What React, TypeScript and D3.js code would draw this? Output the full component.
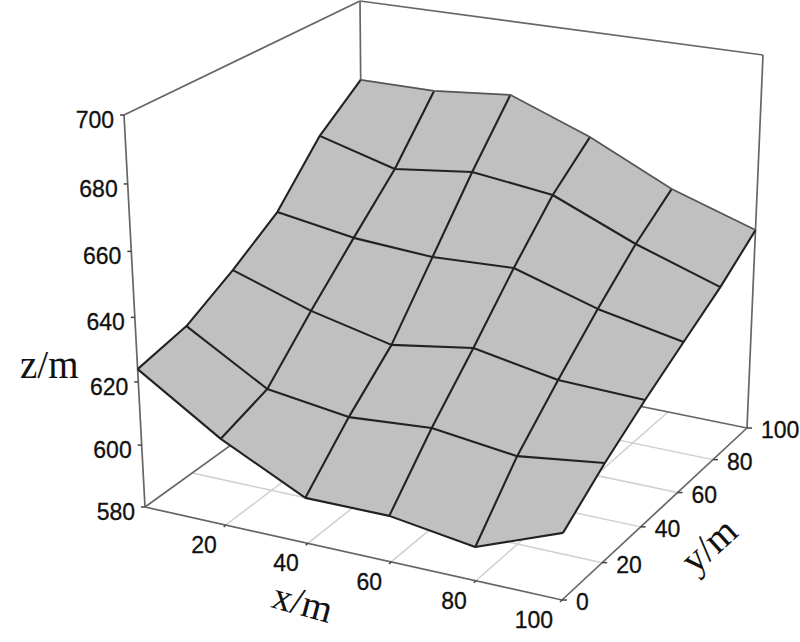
import React from "react";
import * as d3 from "d3";

const xNodes = [0, 20, 40, 60, 80, 100];
const yNodes = [0, 20, 40, 60, 80, 100];
const zRow0 = [624.0, 607.5, 594.5, 594.6, 590.7, 601.1];
const zRow20 = [627.8, 612.9, 609.3, 611.3, 608.0, 611.5];
const zRow40 = [636.4, 628.1, 622.2, 626.3, 621.4, 620.5];
const zRow60 = [646.4, 642.5, 640.9, 642.1, 634.0, 628.6];
const zRow80 = [663.2, 656.4, 659.6, 656.5, 645.4, 636.4];
const zRow100 = [674.2, 674.2, 676.6, 666.9, 654.4, 645.6];
const zRows = [zRow0, zRow20, zRow40, zRow60, zRow80, zRow100];
const xTicks = [20, 40, 60, 80, 100];
const yTicks = [0, 20, 40, 60, 80, 100];
const gridTicks = [20, 40, 60, 80];
const zTicks = [580, 600, 620, 640, 660, 680, 700];

type Pt = [number, number];
const floorA: Pt = [145, 507], floorB: Pt = [562, 600], floorC: Pt = [747, 428], floorD: Pt = [363, 350];
const topA: Pt = [124, 115], topB: Pt = [568, 197], topC: Pt = [763, 55], topD: Pt = [360, 1];

function quad(p00: Pt, p10: Pt, p11: Pt, p01: Pt) {
  const [x0, y0] = p00, [x1, y1] = p10, [x2, y2] = p11, [x3, y3] = p01;
  const dx1 = x1 - x2, dx2 = x3 - x2, sx = x0 - x1 + x2 - x3;
  const dy1 = y1 - y2, dy2 = y3 - y2, sy = y0 - y1 + y2 - y3;
  const det = dx1 * dy2 - dx2 * dy1;
  const g = (sx * dy2 - dx2 * sy) / det, h = (dx1 * sy - sx * dy1) / det;
  const a = [x1 - x0 + g * x1, y1 - y0 + g * y1, g];
  const b = [x3 - x0 + h * x3, y3 - y0 + h * y3, h];
  const c = [x0, y0, 1];
  return (u: number, v: number): Pt => {
    const q = [0, 1, 2].map((i) => a[i] * u + b[i] * v + c[i]);
    return [q[0] / q[2], q[1] / q[2]];
  };
}
const floor = quad(floorA, floorB, floorC, floorD);
const ceil = quad(topA, topB, topC, topD);
const sx = d3.scaleLinear().domain([0, 100]).range([0, 1]);
const sy = d3.scaleLinear().domain([0, 100]).range([0, 1]);
const sz = d3.scaleLinear().domain([580, 700]).range([0, 1]);
const depth = 1.067;
function project(x: number, y: number, z: number): Pt {
  const t = sz(z);
  const g = t / (t + (1 - t) * depth);
  const f = floor(sx(x), sy(y)), c = ceil(sx(x), sy(y));
  return [f[0] + (c[0] - f[0]) * g, f[1] + (c[1] - f[1]) * g];
}
const line = d3.line<Pt>();
const zMin = 580, zMax = 700, lo = 0, hi = 100;
const seg = (a: [number, number, number], b: [number, number, number]) =>
  line([project(...a), project(...b)]) as string;

const sansFont = "'Liberation Sans', Arial, sans-serif";
const serifFont = "'Liberation Serif', 'Times New Roman', serif";
const boxGrey = "#666666";
const gridGrey = "#cfcfcf";
const meshDark = "#222222";

export default function App() {
  const cells: { d: string; key: string }[] = [];
  for (let j = yNodes.length - 2; j >= 0; j--) {
    for (let i = 0; i < xNodes.length - 1; i++) {
      const pts: Pt[] = [
        project(xNodes[i], yNodes[j], zRows[j][i]),
        project(xNodes[i + 1], yNodes[j], zRows[j][i + 1]),
        project(xNodes[i + 1], yNodes[j + 1], zRows[j + 1][i + 1]),
        project(xNodes[i], yNodes[j + 1], zRows[j + 1][i]),
      ];
      cells.push({ d: (line(pts) as string) + "Z", key: `${i}-${j}` });
    }
  }
  const rowLine = (j: number) => line(xNodes.map((x, i) => project(x, yNodes[j], zRows[j][i]))) as string;
  const colLine = (i: number) => line(yNodes.map((y, j) => project(xNodes[i], y, zRows[j][i]))) as string;
  const tickP = (p: Pt, dx: number, dy: number) => line([p, [p[0] + dx, p[1] + dy]]) as string;

  return (
    <svg width={800} height={642} viewBox="0 0 800 642" style={{ position: "absolute", left: 0, top: 0, background: "#fff" }}>
      {/* floor grid */}
      <g stroke={gridGrey} strokeWidth={1.5} fill="none">
        {gridTicks.map((t) => <path key={"gx" + t} d={seg([t, lo, zMin], [t, hi, zMin])} />)}
        {gridTicks.map((t) => <path key={"gy" + t} d={seg([lo, t, zMin], [hi, t, zMin])} />)}
      </g>
      {/* box */}
      <g stroke={boxGrey} strokeWidth={1.7} fill="none">
        <path d={seg([lo, lo, zMin], [lo, hi, zMin])} />
        <path d={seg([lo, hi, zMin], [hi, hi, zMin])} />
        <path d={seg([lo, lo, zMin], [hi, lo, zMin])} />
        <path d={seg([hi, lo, zMin], [hi, hi, zMin])} />
        <path d={seg([hi, hi, zMin], [hi, hi, zMax])} />
        <path d={seg([lo, hi, zMin], [lo, hi, zMax])} />
        <path d={seg([lo, lo, zMin], [lo, lo, zMax])} />
        <path d={seg([lo, lo, zMax], [lo, hi, zMax])} />
        <path d={seg([lo, hi, zMax], [hi, hi, zMax])} />
      </g>
      {/* ticks */}
      <g stroke="#444" strokeWidth={1.5} fill="none">
        {zTicks.map((z) => <path key={"tz" + z} d={tickP(project(lo, lo, z), -4, 0)} />)}
        {xTicks.map((x) => <path key={"tx" + x} d={tickP(project(x, lo, zMin), -2, 2)} />)}
        {yTicks.map((y) => <path key={"ty" + y} d={tickP(project(hi, y, zMin), 5, 0)} />)}
      </g>
      {/* surface */}
      <g fill="#c0c0c0" stroke="#c0c0c0" strokeWidth={0.5}>
        {cells.map((c) => <path key={c.key} d={c.d} />)}
      </g>
      <g fill="none" stroke={meshDark} strokeWidth={2.1} strokeLinejoin="round">
        {yNodes.slice(0, -1).map((_, j) => <path key={"r" + j} d={rowLine(j)} />)}
        {xNodes.map((_, i) => <path key={"c" + i} d={colLine(i)} />)}
      </g>
      <path d={rowLine(yNodes.length - 1)} fill="none" stroke="#555" strokeWidth={1.7} />
      {/* labels */}
      <g fontFamily={sansFont} fontSize={23} fill="#111" stroke="#111" strokeWidth={0.3}>
        {zTicks.map((z) => {
          const p = project(lo, lo, z);
          return <text key={"lz" + z} x={p[0] - 10} y={p[1] + 13} textAnchor="end">{z}</text>;
        })}
        {xTicks.map((x) => {
          const p = project(x, lo, zMin);
          return <text key={"lx" + x} x={p[0] - 9} y={p[1] + 28} textAnchor="end">{x}</text>;
        })}
        {yTicks.map((y) => {
          const p = project(hi, y, zMin);
          return <text key={"ly" + y} x={p[0] + 14} y={p[1] + 10}>{y}</text>;
        })}
      </g>
      <g fontFamily={serifFont} fontSize={39} fill="#111">
        <text x={20} y={378}>z/m</text>
        <text transform="translate(270,607) rotate(15.4)">x/m</text>
        <text transform="translate(695,575) rotate(-42)">y/m</text>
      </g>
    </svg>
  );
}
